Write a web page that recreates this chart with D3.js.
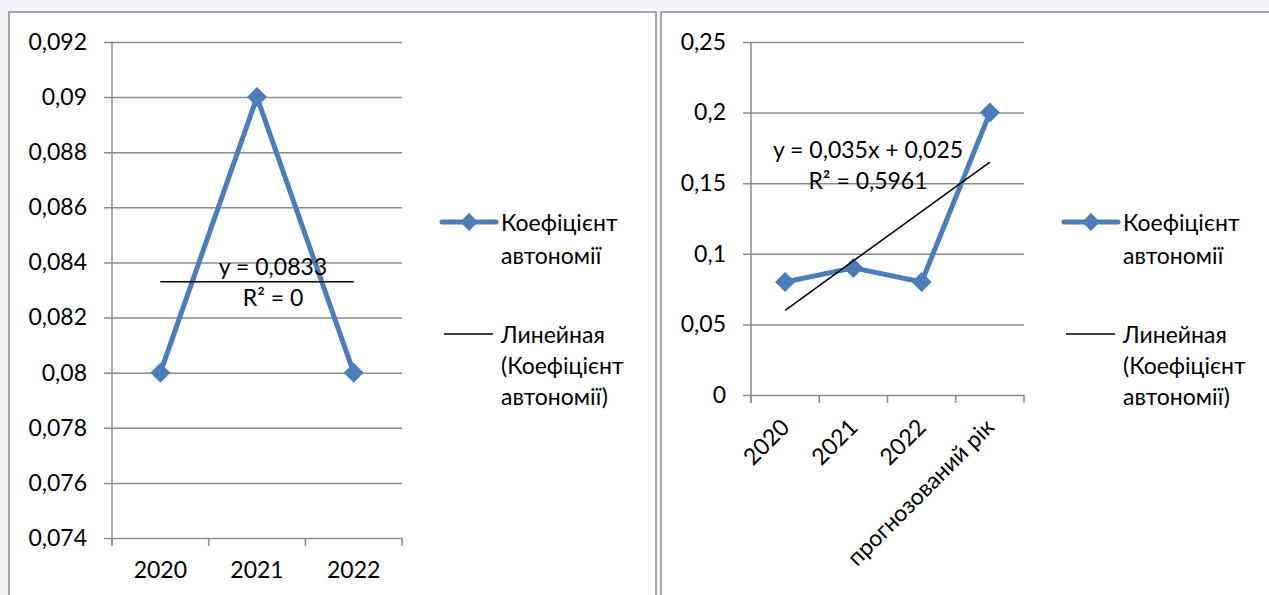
<!DOCTYPE html>
<html>
<head>
<meta charset="utf-8">
<script src="https://cdn.jsdelivr.net/npm/d3@7"></script>
<style>
  html, body { margin: 0; padding: 0; background: #ffffff; }
  svg { display: block; }
  text { font-family: Lato, "Open Sans", sans-serif; fill: #000; }
</style>
</head>
<body>
<svg id="chart" width="1269" height="595"></svg>
<script>
// Actual years
const yearsActual = ["2020", "2021", "2022"];
const autonomyActual = [0.08, 0.09, 0.08];

// Actual years plus the forecast year
const yearsForecast = ["2020", "2021", "2022", "прогнозований рік"];
const autonomyForecast = [0.08, 0.09, 0.08, 0.2];

// Y tick labels
const ticksLeft = [0.074, 0.076, 0.078, 0.08, 0.082, 0.084, 0.086, 0.088, 0.09, 0.092];
const ticksRight = [0, 0.05, 0.1, 0.15, 0.2, 0.25];

// Trendline coefficients (slope, intercept) over category index 1..n
const trendLeft = [0, 0.0833];
const trendRight = [0.035, 0.025];
const trendLeftLabels = ["y = 0,0833", "R² = 0"];
const trendRightLabels = ["y = 0,035x + 0,025", "R² = 0,5961"];

const seriesName = ["Коефіцієнт", "автономії"];
const trendName = ["Линейная", "(Коефіцієнт", "автономії)"];

const BLUE = "#4a7ebb";
const GRID = "#8c8c8c";
const FS = 23;
const fmt = v => String(v).replace(".", ",");

const svg = d3.select("#chart");

// faint backdrop around the chart frames
svg.append("rect").attr("width", 1269).attr("height", 595).attr("fill", "#f3f5f8");

function drawChart(cfg) {
  const g = svg.append("g");
  // frame
  g.append("rect")
    .attr("x", cfg.frame[0]).attr("y", cfg.frame[1])
    .attr("width", cfg.frame[2]).attr("height", cfg.frame[3])
    .attr("fill", "#fff").attr("stroke", "#8a8a8a").attr("stroke-width", 1.5);

  const x = d3.scaleBand().domain(cfg.cats).range([cfg.x0, cfg.x1]).padding(0);
  const y = d3.scaleLinear().domain(cfg.yDomain).range([cfg.y1, cfg.y0]);

  // horizontal gridlines + y ticks/labels
  const yAxis = g.append("g").attr("transform", `translate(${cfg.x0},0)`)
    .call(d3.axisLeft(y).tickValues(cfg.ticks).tickFormat(fmt)
      .tickSizeInner(-(cfg.x1 - cfg.x0)).tickSizeOuter(0).tickPadding(25));
  yAxis.select(".domain").remove();
  yAxis.selectAll(".tick line").attr("stroke", GRID).attr("stroke-width", 1.5).attr("x1", -8);
  yAxis.selectAll(".tick text").attr("font-size", FS).attr("font-family", "Lato").attr("fill", "#000");

  // vertical axis line
  g.append("line").attr("x1", cfg.x0).attr("x2", cfg.x0)
    .attr("y1", cfg.y0).attr("y2", cfg.y1 + 8)
    .attr("stroke", GRID).attr("stroke-width", 1.5);

  // category boundary ticks
  const bounds = cfg.cats.map(c => x(c)).concat([cfg.x1]);
  g.selectAll(".btick").data(bounds).join("line")
    .attr("x1", d => d).attr("x2", d => d)
    .attr("y1", cfg.y1).attr("y2", cfg.y1 + 8)
    .attr("stroke", GRID).attr("stroke-width", 1.5);

  // category labels
  const xAxis = g.append("g").attr("transform", `translate(0,${cfg.y1})`)
    .call(d3.axisBottom(x).tickSize(0).tickPadding(cfg.labelPad));
  xAxis.select(".domain").remove();
  const lbl = xAxis.selectAll(".tick text").attr("font-size", FS).attr("font-family", "Lato").attr("fill", "#000");
  if (cfg.rotate) {
    lbl.attr("text-anchor", "end").attr("dy", "0.35em").attr("y", 0)
      .attr("transform", "translate(0,28) rotate(-45)");
  }

  // data line
  const cx = d => x(d) + x.bandwidth() / 2;
  const pts = cfg.cats.map((c, i) => [cx(c), y(cfg.values[i])]);

  // trendline (over category index 1..n)
  const n = cfg.cats.length;
  const tr = [1, n].map(i => [cx(cfg.cats[i - 1]), y(cfg.trend[0] * i + cfg.trend[1])]);

  g.append("path").attr("d", d3.line()(pts))
    .attr("fill", "none").attr("stroke", BLUE).attr("stroke-width", 5)
    .attr("stroke-linejoin", "round");
  g.selectAll(".mk").data(pts).join("path")
    .attr("transform", d => `translate(${d[0]},${d[1]})`)
    .attr("d", "M0,-10L10,0L0,10L-10,0Z").attr("fill", BLUE);

  g.append("path").attr("d", d3.line()(tr))
    .attr("stroke", "#000").attr("stroke-width", 1.5).attr("fill", "none");

  // trendline equation
  g.selectAll(".eq").data(cfg.eqLabels).join("text")
    .attr("x", cfg.eqPos[0]).attr("y", (d, i) => cfg.eqPos[1] + i * 31)
    .attr("text-anchor", "middle").attr("dominant-baseline", "central")
    .attr("font-size", FS).text(d => d);

  // legend
  const lx = cfg.legend[0], ly = cfg.legend[1];
  g.append("line").attr("x1", lx).attr("x2", lx + 54).attr("y1", ly).attr("y2", ly)
    .attr("stroke", BLUE).attr("stroke-width", 5).attr("stroke-linecap", "round");
  g.append("path").attr("transform", `translate(${lx + 27},${ly})`)
    .attr("d", "M0,-9L9,0L0,9L-9,0Z").attr("fill", BLUE);
  g.selectAll(".l1").data(seriesName).join("text")
    .attr("x", lx + 59).attr("y", (d, i) => ly + i * 33)
    .attr("dominant-baseline", "central").attr("font-size", FS).text(d => d);

  const ty = ly + 112;
  g.append("line").attr("x1", lx + 2).attr("x2", lx + 51).attr("y1", ty).attr("y2", ty)
    .attr("stroke", "#000").attr("stroke-width", 1.5);
  g.selectAll(".l2").data(trendName).join("text")
    .attr("x", lx + 59).attr("y", (d, i) => ty + i * 31)
    .attr("dominant-baseline", "central").attr("font-size", FS).text(d => d);
}

drawChart({
  frame: [9, 12, 647, 600],
  cats: yearsActual, values: autonomyActual,
  x0: 112, x1: 402, y0: 42, y1: 538,
  yDomain: [0.074, 0.092], ticks: ticksLeft,
  trend: trendLeft, eqLabels: trendLeftLabels, eqPos: [273, 266],
  legend: [442, 222], labelPad: 24, rotate: false
});

drawChart({
  frame: [661, 12, 640, 600],
  cats: yearsForecast, values: autonomyForecast,
  x0: 751, x1: 1024, y0: 42, y1: 395,
  yDomain: [0, 0.25], ticks: ticksRight,
  trend: trendRight, eqLabels: trendRightLabels, eqPos: [868, 149],
  legend: [1064, 222], labelPad: 10, rotate: true
});
</script>
</body>
</html>
